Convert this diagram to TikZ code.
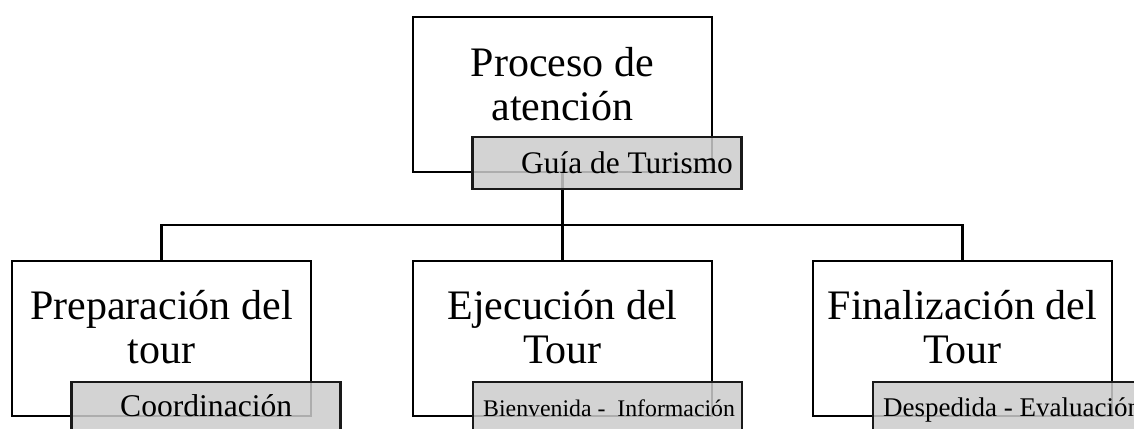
\documentclass[tikz,border=0pt]{standalone}
\usepackage{fontspec}
\setmainfont{Liberation Serif}
\begin{document}
\begin{tikzpicture}[x=1pt,y=-1pt,
  wbox/.style={draw=black, line width=2.4pt, fill=white, minimum width=299pt, minimum height=155pt, inner sep=0pt},
  gbox/.style={draw=black!90, line width=2.6pt, fill=black!20, fill opacity=0.85, draw opacity=1, minimum width=269pt, minimum height=52pt, inner sep=0pt},
  maintext/.style={font=\fontsize{42}{44}\selectfont, align=center, inner sep=0pt},
  subtext/.style={inner sep=0pt, anchor=base west},
  conn/.style={draw=black, line width=2.4pt}]
\clip (0,0) rectangle (1134,428);
\fill[white] (0,0) rectangle (1134,428);
% white boxes
\node[wbox] (top) at (562.5,94.5) {};
\node[wbox] (b1) at (161.5,338.5) {};
\node[wbox] (b2) at (562.5,338.5) {};
\node[wbox] (b3) at (962.5,338.5) {};
% connectors
\coordinate (bus) at (562.5,225);
\draw[conn] (top.south) -- (bus);
\draw[conn] (b1.north) |- (bus) -| (b3.north);
\draw[conn] (bus) -- (b2.north);
% main texts (base anchor = last line baseline)
\node[maintext, anchor=base] (t0) at (562.5,120) {Proceso de\\atención};
\node[maintext, anchor=base] (t1) at (161.5,363) {Preparación del\\tour};
\node[maintext, anchor=base] (t2) at (562.5,363) {Ejecución del\\Tour};
\node[maintext, anchor=base] (t3) at (962.5,363) {Finalización del\\Tour};
% grey boxes
\node[gbox] (g0) at (607,163) {};
\node[gbox] (g1) at (206,408) {};
\node[gbox] (g2) at (607.5,408) {};
\node[gbox] (g3) at (1007.5,408) {};
% grey texts
\node[subtext, font=\fontsize{31.4}{34}\selectfont] (s0) at (521,173) {Guía de Turismo};
\node[subtext, font=\fontsize{31.6}{34}\selectfont] (s1) at (120,416) {Coordinación};
\node[subtext, font=\fontsize{23.8}{26}\selectfont] (s2) at (483,416) {Bienvenida -\ \ Información};
\node[subtext, font=\fontsize{27}{30}\selectfont] (s3) at (883,416) {Despedida - Evaluación};
\end{tikzpicture}
\end{document}
